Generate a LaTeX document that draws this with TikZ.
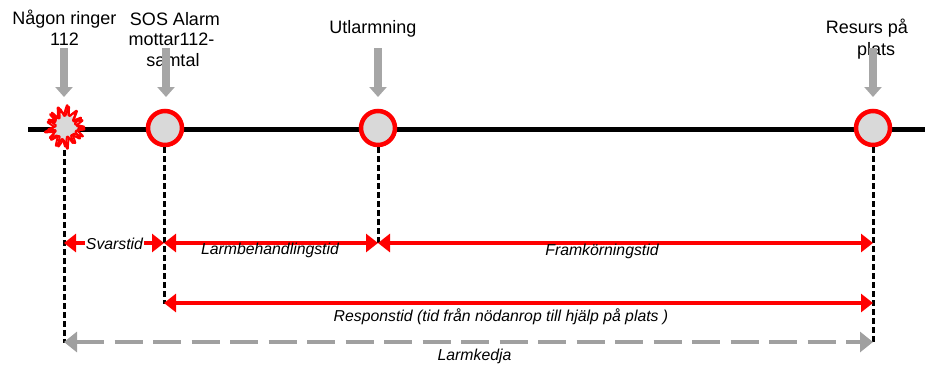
\documentclass[tikz,border=0pt]{standalone}
\usepackage{fontspec}
\setmainfont{Liberation Sans}
\usetikzlibrary{arrows.meta}
\definecolor{circfill}{RGB}{217,217,217}
\definecolor{arrgray}{RGB}{166,166,166}
\definecolor{dashgray}{RGB}{160,160,160}
\tikzset{
  toplbl/.style={anchor=base, inner sep=0pt, font=\fontsize{18}{21}\selectfont},
  botlbl/.style={anchor=base, inner sep=0pt, font=\fontsize{15.8}{19}\selectfont\itshape},
  event/.style={circle, draw=red, line width=4.5pt, fill=circfill, minimum size=34pt, inner sep=0pt},
  downarrow/.style={draw=arrgray, line width=8pt, -{Triangle[width=17pt,length=10pt]}},
  guide/.style={draw=black, line width=3pt, dash pattern=on 6pt off 3pt},
  redspan/.style={draw=red, line width=3.3pt, {Triangle[width=18pt,length=12pt]}-{Triangle[width=18pt,length=12pt]}},
  grayspan/.style={draw=dashgray, line width=4.5pt, dash pattern=on 28pt off 10.5pt, {Triangle[width=20pt,length=13pt]}-{Triangle[width=20pt,length=13pt]}},
  burstline/.style={draw=red, line width=2pt, rounded corners=1.5pt, line join=round}
}
\begin{document}
\begin{tikzpicture}[x=1pt,y=-1pt]
\useasboundingbox (0,0) rectangle (929,365);
% timeline
\coordinate (tl0) at (28,129);
\coordinate (tl1) at (925,129);
\draw[line width=5pt] (tl0) -- (tl1);
% burst
\node[circle, minimum size=40pt, inner sep=0pt] (b0) at (65,127) {};
\fill[circfill] (b0.center) circle[radius=13pt];
\draw[burstline]
  plot[samples=26, domain=0:346.15, variable=\t]
  ({65+(15.5+5*cos(13*\t)+1.5*sin(5*\t))*cos(\t)},
   {127+(16.5+5.5*cos(13*\t)+1.5*cos(4*\t))*sin(\t)}) -- cycle;
\draw[burstline]
  plot[samples=26, domain=6:352.15, variable=\t]
  ({65+(14.5+5*cos(13*(\t-6))+1.5*cos(3*\t))*cos(\t)},
   {127+(15.5+5.5*cos(13*(\t-6))+1.5*sin(4*\t))*sin(\t)}) -- cycle;
% event circles
\node[event] (c1) at (165,128) {};
\node[event] (c2) at (378,128) {};
\node[event] (c3) at (873,128) {};
% top labels
\node[toplbl] (l0a) at (64.5,24.5) {Någon ringer};
\node[toplbl] (l0b) at (64.5,45.7) {112};
\node[toplbl] (l1a) at (175,25) {SOS Alarm};
\node[toplbl] (l1b) at (171.5,45.7) {mottar112-};
\node[toplbl] (l1c) at (173,66) {samtal};
\node[toplbl] (l2) at (373,33.5) {Utlarmning};
\node[toplbl] (l3a) at (867,33.5) {Resurs på};
\node[toplbl] (l3b) at (876,55) {plats};
% gray down arrows
\coordinate (a0) at (64,48);  \coordinate (e0) at (64,97);
\coordinate (a1) at (166,48); \coordinate (e1) at (166,97);
\coordinate (a2) at (378,48); \coordinate (e2) at (378,97);
\coordinate (a3) at (873,48); \coordinate (e3) at (873,97);
\draw[downarrow] (a0) -- (e0);
\draw[downarrow] (a1) -- (e1);
\draw[downarrow] (a2) -- (e2);
\draw[downarrow] (a3) -- (e3);
% guide endpoints
\coordinate (g0) at (64,343);
\coordinate (g1) at (164,304);
\coordinate (g2) at (378,244);
\coordinate (g3) at (873,343);
\draw[guide] (64,150) -- (g0);
\draw[guide] (c1.south -| g1) -- (g1);
\draw[guide] (c2.south) -- (g2);
\draw[guide] (c3.south) -- (g3);
% span coordinates
\coordinate (s0) at (64,243);
\coordinate (s1) at (164,243);
\coordinate (s2) at (378,243);
\coordinate (s3) at (873,243);
\coordinate (r1) at (164,303);
\coordinate (r3) at (873,303);
\coordinate (k0) at (64,342);
\coordinate (k3) at (873,342);
\draw[redspan] (s0) -- (s1);
\draw[redspan] (s1) -- (s2);
\draw[redspan] (s2) -- (s3);
\draw[redspan] (r1) -- (r3);
\draw[grayspan] (k0) -- (k3);
% bottom labels
\node[botlbl, fill=white, inner xsep=1pt, inner ysep=1pt] (t0) at (114.5,249.5) {Svarstid};
\node[botlbl] (t1) at (270,254) {Larmbehandlingstid};
\node[botlbl] (t2) at (602,255) {Framkörningstid};
\node[botlbl] (t3) at (501,321) {Responstid (tid från nödanrop till hjälp på plats )};
\node[botlbl] (t4) at (474.5,360) {Larmkedja};
\end{tikzpicture}
\end{document}
